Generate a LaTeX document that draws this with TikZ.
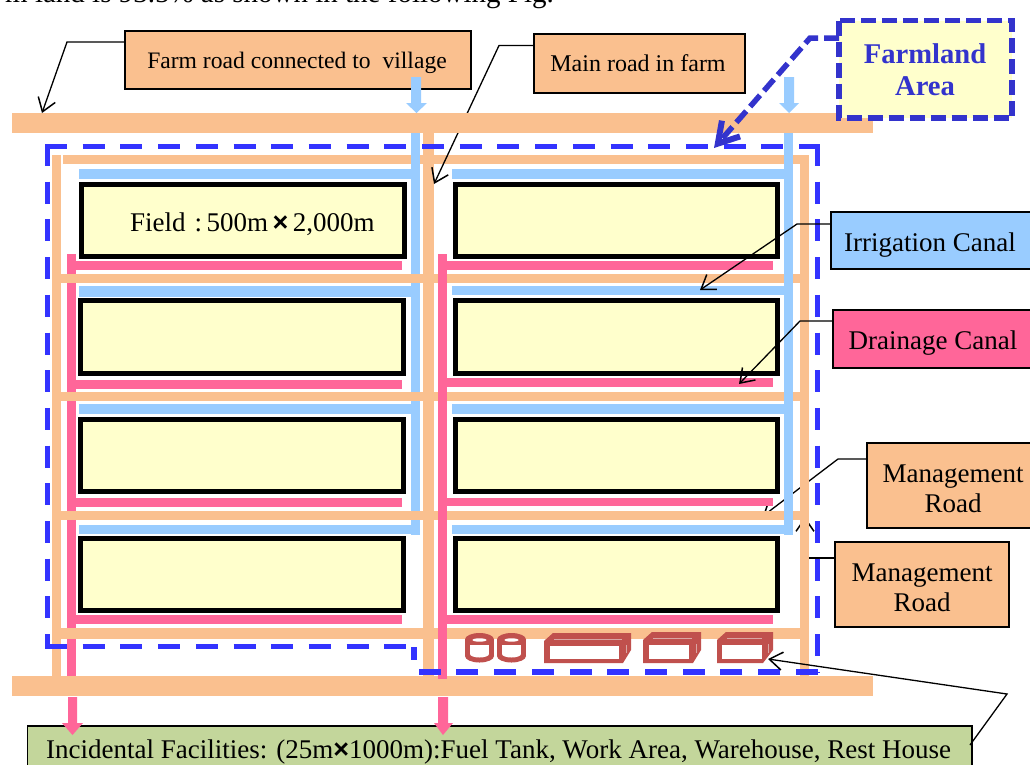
\documentclass[tikz,border=0pt]{standalone}
\usepackage{fontspec}
\setmainfont{Liberation Serif}
\newfontfamily\timesfont{Liberation Sans}
\usetikzlibrary{arrows.meta}
\definecolor{roadc}{HTML}{FAC08F}
\definecolor{irrc}{HTML}{99CCFF}
\definecolor{drainc}{HTML}{FF6699}
\definecolor{fieldc}{HTML}{FFFFCC}
\definecolor{dashc}{HTML}{3333FF}
\definecolor{areac}{HTML}{3333CC}
\definecolor{facc}{HTML}{C0504D}
\definecolor{facl}{HTML}{D9A6A4}
\definecolor{greenc}{HTML}{C3D69B}
\tikzset{
  labelbox/.style={draw=black,line width=1.3pt,inner sep=0pt,align=center,text=black},
  leader/.style={draw=black,line width=1.3pt,-{Straight Barb[length=13pt,width=18pt,line width=1.5pt]}},
  fieldbox/.style={draw=black,fill=fieldc,line width=5pt},
  areadash/.style={draw=dashc,line width=5.5pt,dash pattern=on 22pt off 15.7pt},
  facshape/.style={fill=facc},
  facin/.style={fill=white},
  facline/.style={draw=facl,line width=0.8pt}
}
\newcommand{\fs}[1]{\fontsize{#1}{#1}\selectfont}
\newcommand{\timessign}{{\timesfont\bfseries ×}}
\newcommand{\facbox}[7]{% x0 xfront xback ytop ybottom inner-left inner-right
  \fill[facshape] (#1,#5)--(#1,#4+8)--(#1+9,#4)--(#3,#4)--(#3,#5-13)--(#2,#5)--cycle;
  \fill[facin] (#6,#4+13) rectangle (#7,#5-4.5);
  \draw[facline] (#1+10,#4+6.5)--(#2-1,#4+6.5);
  \draw[facline] (#3-5,#4+12)--(#3-5,#5-10);
}
\newcommand{\tank}[1]{% centre x
  \fill[facshape] (#1,639.5) ellipse[x radius=14.5,y radius=6.5];
  \fill[facshape] (#1,656) ellipse[x radius=14.5,y radius=6.5];
  \fill[facshape] (#1-14.5,639.5) rectangle (#1+14.5,656);
  \fill[facin] (#1,654) ellipse[x radius=9.5,y radius=3.5];
  \fill[facin] (#1-9.5,644.5) rectangle (#1+9.5,654);
  \fill[facin] (#1,640) ellipse[x radius=7,y radius=1.7];
}
\begin{document}
\begin{tikzpicture}[x=1pt,y=-1pt,line join=miter]
\useasboundingbox (0,0) rectangle (1030,764);
\clip (0,0) rectangle (1030,764);
\fill[white] (0,0) rectangle (1030,764);

% named ends of the connectors
\coordinate (farmbend) at (67,42);
\coordinate (farmtip) at (42,113);
\coordinate (mainbend) at (499,45.5);
\coordinate (maintip) at (434,184);
\coordinate (irrbend) at (797,224);
\coordinate (irrtip) at (700,290);
\coordinate (drainbend) at (800,321);
\coordinate (draintip) at (739,384);
\coordinate (mg1bend) at (838,459);
\coordinate (mg1tip) at (763,516);
\coordinate (mg2bend) at (805,558);
\coordinate (mg2tip) at (805,517);
\coordinate (facbend) at (1007,694);
\coordinate (factip) at (768,659);
\coordinate (facstart) at (970,745);
\coordinate (areastart) at (839,38);
\coordinate (areabend) at (810,38);
\coordinate (areatip) at (714,148);

% top line of running text
\node[anchor=base east,inner sep=0pt,font=\fs{29}] (toptext) at (554,2) {m land is 93.5\% as shown in the following Fig.};

% label boxes defined early for the leaders beneath the grid
\path (298,60) node[labelbox,fill=roadc,minimum width=346pt,minimum height=58pt] (farmbox) {};
\path (639.5,63.5) node[labelbox,fill=roadc,minimum width=211pt,minimum height=59pt] (mainbox) {};
\path (953,485.5) node[labelbox,fill=roadc,minimum width=172pt,minimum height=85pt] (mgbox1) {};
\path (922,584.5) node[labelbox,fill=roadc,minimum width=174pt,minimum height=85pt] (mgbox2) {};

% leaders that pass beneath roads and canals
\draw[leader] (mgbox1.west |- mg1bend) -- (mg1bend) -- (mg1tip);
\draw[leader] (mgbox2.west |- mg2bend) -- (mg2bend) -- (mg2tip);

% roads (vertical)
\fill[roadc] (52,155) rectangle (61,676);
\fill[roadc] (800,155) rectangle (809,676);
\fill[roadc] (423,133) rectangle (434,676);
\fill[roadc] (63,155) rectangle (809,164);

% irrigation canals
\fill[irrc] (411,133) rectangle (420,535);
\fill[irrc] (79,169) rectangle (411,179);
\fill[irrc] (79,286) rectangle (411,297);
\fill[irrc] (79,404) rectangle (411,414);
\fill[irrc] (79,525) rectangle (411,534);
\fill[irrc] (452,169) rectangle (784,179);
\fill[irrc] (452,286) rectangle (784,295);
\fill[irrc] (452,404) rectangle (784,414);
\fill[irrc] (452,525) rectangle (784,534);

% drainage canals
\fill[drainc] (67,254) rectangle (76,676);
\fill[drainc] (76,261) rectangle (402,270);
\fill[drainc] (76,380) rectangle (402,389);
\fill[drainc] (76,498) rectangle (402,507);
\fill[drainc] (76,615) rectangle (402,624);
\fill[drainc] (447,261) rectangle (773,270);
\fill[drainc] (447,378) rectangle (773,387);
\fill[drainc] (447,498) rectangle (773,506);
\fill[drainc] (447,615) rectangle (773,624);

% management roads (horizontal)
\fill[roadc] (52,274) rectangle (784,283);
\fill[roadc] (52,392) rectangle (784,401);
\fill[roadc] (52,511) rectangle (784,520);
\fill[roadc] (52,628) rectangle (809,639);
\fill[roadc] (793,274) rectangle (809,283);
\fill[roadc] (793,392) rectangle (809,401);
\fill[roadc] (793,511) rectangle (809,520);

% right irrigation canal above the roads, centre drainage above the roads
\fill[irrc] (784,133) rectangle (793,535);
\fill[irrc] (411,155) rectangle (420,164);
\fill[drainc] (438,254) rectangle (447,679);

% main road leader, then the two farm roads above it
\draw[leader] (mainbox.west |- mainbend) -- (mainbend) -- (maintip);
\fill[roadc] (12,113) rectangle (873,133);
\fill[roadc] (12,676) rectangle (873,696);
\fill[drainc] (438,676) rectangle (447,679);

% fields
\foreach \nm/\xa/\xb/\ya/\yb in {
  fa/81.5/404.5/184.5/256.5, fb/80.5/403.5/300.5/373.5,
  fc/80.5/403.5/419.5/491.5, fd/80.5/403.5/538.5/610.5,
  fe/455.5/777.5/184.5/256.5, ff/455.5/777.5/300.5/373.5,
  fg/455.5/777.5/419.5/491.5, fh/455.5/777.5/538.5/610.5}{
  \draw[fieldbox] (\xa,\ya) rectangle (\xb,\yb);
}
\node[anchor=base west,inner sep=0pt,font=\fs{27}] (fieldtext) at (130,231) {Field\,\,:\,500m\,\timessign\,2,000m};

% facilities
\tank{479.5}
\tank{511.5}
\facbox{544}{623}{631}{633}{663}{550}{619}
\facbox{643}{693}{701}{632}{663}{649}{689}
\facbox{717}{763}{773}{632}{663}{722}{762}

% farmland boundary, one run per side
\draw[areadash] (47.5,144) -- (47.5,646.5);
\draw[areadash] (45,146.5) -- (817.7,146.5);
\draw[areadash] (817.7,144) -- (817.7,672);
\draw[areadash] (817.7,672) -- (416,672);
\draw[areadash] (414,647) -- (414,660);
\draw[areadash] (45,646.5) -- (408,646.5);

% label boxes with their text
\node[labelbox,fill=roadc,minimum width=346pt,minimum height=58pt] (farmboxt) at (298,60) {};
\node[anchor=base,inner sep=0pt,font=\fs{23.6}] (farmtext) at (297,68) {Farm road connected to\ \ village};
\node[labelbox,fill=roadc,minimum width=211pt,minimum height=59pt] (mainboxt) at (639.5,63.5) {};
\node[anchor=base,inner sep=0pt,font=\fs{24}] (maintext) at (638,71.5) {Main road in farm};
\node[labelbox,fill=roadc,minimum width=172pt,minimum height=85pt,font=\fontsize{27}{30}\selectfont] (mgbox1t) at (953,485.5) {\rule{0pt}{24pt}Management\\Road};
\node[labelbox,fill=roadc,minimum width=174pt,minimum height=85pt,font=\fontsize{27}{30}\selectfont] (mgbox2t) at (922,584.5) {\rule{0pt}{24pt}Management\\Road};
\node[labelbox,fill=irrc,minimum width=204pt,minimum height=57pt] (irrbox) at (933,240.5) {};
\node[anchor=base,inner sep=0pt,font=\fs{27}] (irrtext) at (930,251) {Irrigation Canal};
\node[labelbox,fill=drainc,minimum width=204pt,minimum height=58pt] (drainbox) at (935,339) {};
\node[anchor=base,inner sep=0pt,font=\fs{27}] (draintext) at (933,349) {Drainage Canal};
\node[labelbox,fill=greenc,minimum width=944.5pt,minimum height=50pt] (facbox) at (499.75,751) {};
\node[anchor=base west,inner sep=0pt,font=\fs{27}] (factext) at (46,758) {Incidental Facilities: (25m\timessign 1000m):Fuel Tank, Work Area, Warehouse, Rest House};

% leaders above the grid
\draw[leader] (farmbox.west |- farmbend) -- (farmbend) -- (farmtip);
\draw[leader] (irrbox.west |- irrbend) -- (irrbend) -- (irrtip);
\draw[leader] (drainbox.west |- drainbend) -- (drainbend) -- (draintip);
\draw[leader] (facstart) -- (facbend) -- (factip);

% canal arrows
\fill[irrc] (411,77) rectangle (421,103) (406,103) -- (427,103) -- (416.5,113) -- cycle;
\fill[irrc] (784,77) rectangle (794,103) (779,103) -- (799,103) -- (789,113) -- cycle;
\fill[drainc] (68,697) rectangle (77,723) (62,723) -- (83,723) -- (72.5,735) -- cycle;
\fill[drainc] (438,697) rectangle (448,723) (434,723) -- (453,723) -- (443,735) -- cycle;

% farmland area callout
\draw[draw=areac,line width=5.5pt,dash pattern=on 15pt off 6pt,fill=fieldc] (839,20.5) rectangle (1012,118);
\node[inner sep=0pt,align=center,text=areac,font=\fontsize{28.6}{32}\selectfont\bfseries] (areabox) at (925,70) {Farmland\\Area};
\draw[draw=areac,line width=5.5pt,dash pattern=on 15pt off 6pt,-{Straight Barb[length=20pt,width=24pt,line width=6pt]}]
  (areastart) -- (areabend) -- (areatip);
\end{tikzpicture}
\end{document}
